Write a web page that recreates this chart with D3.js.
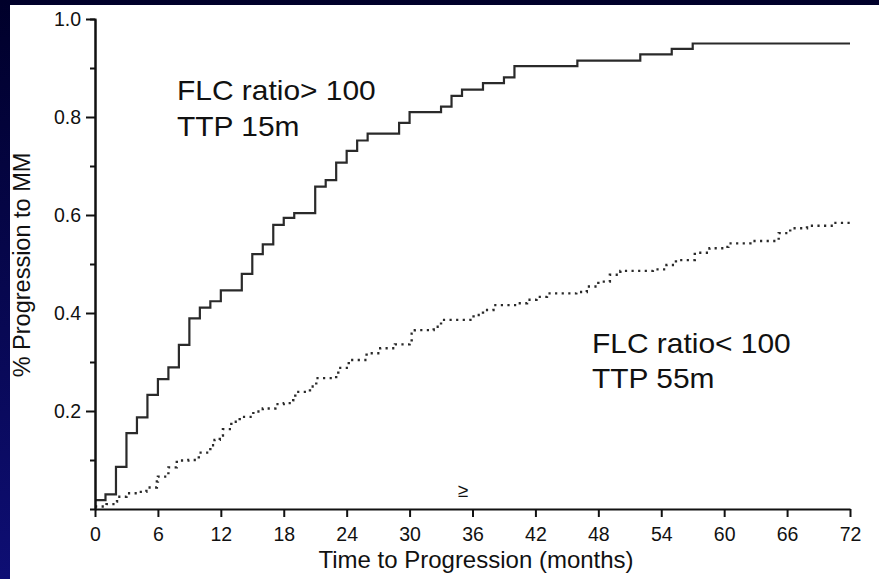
<!DOCTYPE html>
<html>
<head>
<meta charset="utf-8">
<script src="https://cdn.jsdelivr.net/npm/d3@7"></script>
<style>
  html, body { margin: 0; padding: 0; background: #000030; }
  svg { display: block; }
  text { font-family: "Liberation Sans", Arial, Helvetica, sans-serif; fill: #111; }
</style>
</head>
<body>
<svg id="chart" width="879" height="579"></svg>
<script>
// ---- Data ----
const xTicks = [0, 6, 12, 18, 24, 30, 36, 42, 48, 54, 60, 66, 72];
const yTicks = [0.2, 0.4, 0.6, 0.8, 1.0];
const yMinorTicks = [0.1, 0.3, 0.5, 0.7, 0.9];

// FLC ratio > 100 (solid step curve)
const highTimes  = [0, 1, 2, 3, 4, 5, 6, 7, 8, 9, 10, 11, 12, 14, 15, 16, 17, 18, 19, 21, 22, 23, 24, 25, 26, 29, 30, 33, 34, 35, 37, 39, 40, 46, 52, 55, 57, 72];
const highValues = [0.018, 0.03, 0.086, 0.155, 0.187, 0.233, 0.265, 0.289, 0.335, 0.389, 0.411, 0.424, 0.446, 0.48, 0.52, 0.54, 0.58, 0.594, 0.604, 0.658, 0.671, 0.707, 0.731, 0.752, 0.766, 0.788, 0.81, 0.821, 0.843, 0.856, 0.869, 0.881, 0.904, 0.915, 0.928, 0.939, 0.95, 0.95];

// FLC ratio < 100 (dotted step curve)
const lowTimes  = [0, 1.1, 1.9, 2.1, 3.0, 4.0, 4.9, 5.9, 6.0, 7.0, 7.8, 8.9, 9.9, 11.0, 11.4, 11.9, 12.2, 13.0, 13.8, 15.1, 16.0, 17.2, 18.0, 18.9, 19.1, 20.5, 21.1, 23.0, 23.2, 24.2, 25.9, 27.2, 28.6, 30.0, 30.2, 30.5, 32.3, 33.0, 35.8, 36.1, 37.0, 38.0, 40.2, 41.2, 42.1, 43.1, 45.9, 46.9, 48.0, 49.1, 50.1, 53.2, 54.5, 55.4, 57.2, 58.6, 60.1, 60.4, 62.5, 65.2, 66.3, 67.9, 70.4, 72];
const lowValues = [0.005, 0.01, 0.015, 0.025, 0.032, 0.035, 0.044, 0.056, 0.066, 0.085, 0.099, 0.10, 0.115, 0.13, 0.141, 0.15, 0.163, 0.178, 0.188, 0.199, 0.205, 0.214, 0.216, 0.222, 0.239, 0.25, 0.267, 0.273, 0.288, 0.304, 0.318, 0.328, 0.336, 0.341, 0.358, 0.365, 0.372, 0.386, 0.389, 0.396, 0.406, 0.416, 0.42, 0.427, 0.433, 0.44, 0.443, 0.454, 0.464, 0.478, 0.486, 0.489, 0.498, 0.508, 0.523, 0.532, 0.535, 0.542, 0.547, 0.563, 0.573, 0.578, 0.584, 0.584];

const labelsHigh = ["FLC ratio> 100", "TTP 15m"];
const labelsLow  = ["FLC ratio< 100", "TTP 55m"];
const xTitle = "Time to Progression (months)";
const yTitle = "% Progression to MM";

// ---- Drawing ----
const svg = d3.select("#chart");
const W = 879, H = 579;

const defs = svg.append("defs");
const grad = defs.append("linearGradient").attr("id", "bg").attr("x1", 0).attr("y1", 0).attr("x2", 0).attr("y2", 1);
grad.append("stop").attr("offset", "0%").attr("stop-color", "#00002a");
grad.append("stop").attr("offset", "100%").attr("stop-color", "#0e0e74");
svg.append("rect").attr("width", W).attr("height", H).attr("fill", "url(#bg)");
svg.append("rect").attr("x", 10).attr("y", 5).attr("width", W - 10).attr("height", H - 5).attr("fill", "#ffffff");

const x = d3.scaleLinear().domain([0, 72]).range([95, 850]);
const y = d3.scaleLinear().domain([0, 1]).range([509, 19]);

// Curves
const highData = highTimes.map((t, i) => [t, highValues[i]]);
const lowData = lowTimes.map((t, i) => [t, lowValues[i]]);
const line = d3.line().x(d => x(d[0])).y(d => y(d[1])).curve(d3.curveStepAfter);

svg.append("path").datum(lowData).attr("d", line)
  .attr("fill", "none").attr("stroke", "#2a2a2a").attr("stroke-width", 2.4)
  .attr("stroke-dasharray", "2.2,4.4");

svg.append("path").datum(highData).attr("d", line)
  .attr("fill", "none").attr("stroke", "#2a2a2a").attr("stroke-width", 2.2);

// Axes
const yAxisMinor = svg.append("g").attr("transform", `translate(${x(0)},0)`)
  .call(d3.axisLeft(y).tickValues(yMinorTicks).tickSize(5).tickFormat(""));
const yAxis = svg.append("g").attr("transform", `translate(${x(0)},0)`)
  .call(d3.axisLeft(y).tickValues(yTicks).tickSize(9).tickPadding(5).tickFormat(d3.format(".1f")).tickSizeOuter(0));
const xAxis = svg.append("g").attr("transform", `translate(0,${y(0)})`)
  .call(d3.axisBottom(x).tickValues(xTicks).tickSize(8).tickPadding(10).tickSizeOuter(0));

[yAxisMinor, yAxis, xAxis].forEach(g => {
  g.selectAll("path.domain").attr("stroke", "#111").attr("stroke-width", 2);
  g.selectAll(".tick line").attr("stroke", "#111").attr("stroke-width", 2);
  g.selectAll(".tick text").attr("fill", "#111")
    .style("font-family", '"Liberation Sans", Arial, sans-serif').style("font-size", "19.5px");
});

// Axis titles
svg.append("text").attr("x", 476).attr("y", 568).attr("text-anchor", "middle")
  .style("font-size", "24px").text(xTitle);
svg.append("text").attr("transform", "translate(30,265) rotate(-90)").attr("text-anchor", "middle")
  .style("font-size", "23.5px").text(yTitle);

// Annotations (slightly wide lettering as in the reference)
function note(xp, yp, str) {
  svg.append("text").attr("transform", `translate(${xp},${yp}) scale(1.05,1)`)
    .style("font-size", "28.5px").text(str);
}
note(177, 100, labelsHigh[0]);
note(177, 136, labelsHigh[1]);
note(592, 353, labelsLow[0]);
note(592, 388, labelsLow[1]);

// small marker glyph near baseline
svg.append("text").attr("x", 463).attr("y", 497).attr("text-anchor", "middle")
  .style("font-size", "19px").text("≥");
</script>
</body>
</html>
